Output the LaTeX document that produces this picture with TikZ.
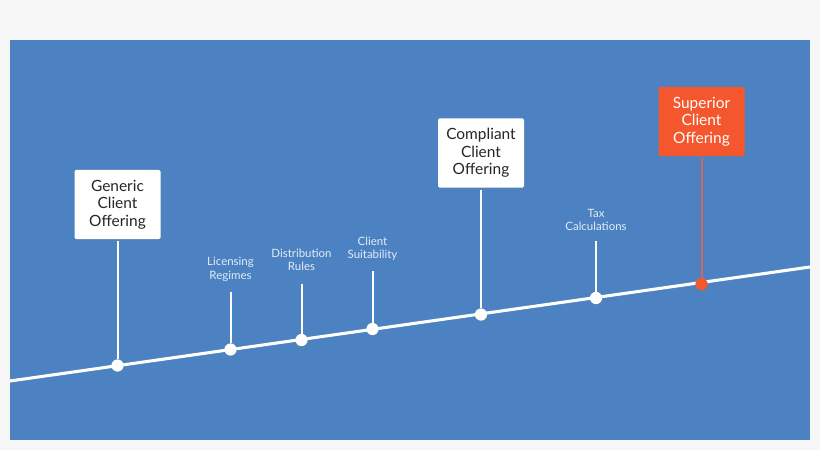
\documentclass[tikz,border=0pt]{standalone}
\usepackage{fontspec}
\setmainfont{Lato}
\usetikzlibrary{positioning,shadows}
\definecolor{panelblue}{HTML}{4C82C1}
\definecolor{pagegrey}{HTML}{F6F6F6}
\definecolor{offerred}{HTML}{F4572E}
\definecolor{stemred}{HTML}{CC6A62}
\definecolor{smalltext}{HTML}{E3ECF6}
\definecolor{boxtext}{HTML}{262626}
\newcommand{\offertext}[1]{\raisebox{-2.2pt}{\parbox{60pt}{\centering #1}}}
\tikzset{
    stone/.style={circle,fill=white,minimum size=9.2pt,inner sep=0pt,
        drop shadow={shadow xshift=1pt,shadow yshift=-1.5pt,opacity=0.18}},
    offerbox/.style={rectangle,rounded corners=1.2pt,fill=white,text=boxtext,align=center,
        minimum width=64.5pt,minimum height=52pt,inner sep=0pt,font=\fontsize{11.6}{13.2}\selectfont,
        drop shadow={shadow xshift=0.8pt,shadow yshift=-0.8pt,opacity=0.2}},
    steplabel/.style={align=center,text=smalltext,inner sep=0pt,
        font=\fontsize{8.6}{10}\selectfont},
    stem/.style={white,line width=1.5pt},
    road/.style={white,line width=2.3pt}
}
\begin{document}
\begin{tikzpicture}[x=0.75pt,y=-0.75pt]
        \useasboundingbox (0,0) rectangle (820,450);
        \fill[pagegrey] (0,0) rectangle (820,450);
        \fill[panelblue] (10,40) rectangle (810,440);

        % Road
        \coordinate (roadstart) at (10,381);
        \coordinate (roadend) at (810,267);
        \draw[road] (roadstart) -- (roadend);

        % Stones along the road
        \node[stone] (genericdot) at (117.5,365.5) {};
        \node[stone] (licensingdot) at (230.5,349.5) {};
        \node[stone] (distributiondot) at (301.5,340) {};
        \node[stone] (suitabilitydot) at (372.5,329) {};
        \node[stone] (compliantdot) at (481,314.5) {};
        \node[stone] (taxdot) at (596,298) {};
        \node[stone,fill=offerred] (superiordot) at (701.5,284) {};

        % Large offerings
        \node[offerbox] (generic) at (117.5,204.5) {\offertext{Generic\\Client\\Offering}};
        \node[offerbox] (compliant) at (481,153) {\offertext{Compliant\\Client\\Offering}};
        \node[offerbox,fill=offerred,text=white] (superior) at (701.5,121.5) {\offertext{Superior\\Client\\Offering}};

        % Small labels
        \node[steplabel] (licensing) at (230.5,269.5) {Licensing\\Regimes};
        \node[steplabel] (distribution) at (301.5,260) {Distribution\\Rules};
        \node[steplabel] (suitability) at (372.5,249) {Client\\Suitability};
        \node[steplabel] (tax) at (596,220) {Tax\\Calculations};

        % Stems
        \draw[stem] ([yshift=-1.5pt]generic.south) -- (genericdot);
        \draw[stem] ([yshift=-1.5pt]compliant.south) -- (compliantdot);
        \draw[stem,stemred] ([yshift=-1.5pt]superior.south) -- (superiordot);
        \draw[stem] ([yshift=-7.5pt]licensing.south) -- (licensingdot);
        \draw[stem] ([yshift=-9.5pt]distribution.south) -- (distributiondot);
        \draw[stem] ([yshift=-7.5pt]suitability.south) -- (suitabilitydot);
        \draw[stem] ([yshift=-7.5pt]tax.south) -- (taxdot);
\end{tikzpicture}
\end{document}
